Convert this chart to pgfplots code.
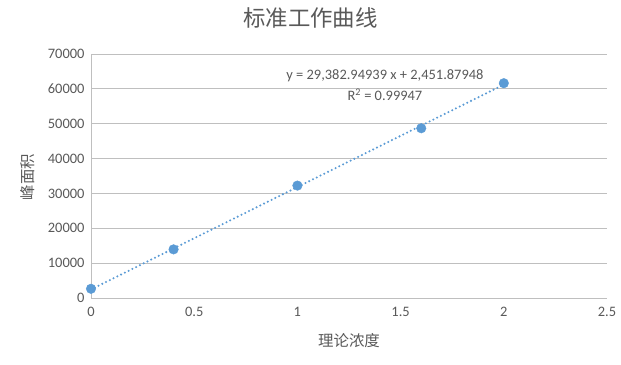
\documentclass[border=0pt]{standalone}
\usepackage{pgfplots}
\pgfplotsset{compat=1.18}
\usepackage{fontspec}
\setmainfont{Carlito}
\newfontfamily\cjk{Noto Sans CJK SC}
\definecolor{txt}{HTML}{595959}
\definecolor{grid}{HTML}{D9D9D9}
\definecolor{axisc}{HTML}{BFBFBF}
\definecolor{ser}{HTML}{5B9BD5}

\pgfplotstableread{
x y
0   2650
0.4 13950
1   32250
1.6 48700
2   61625
}\standards

\begin{document}
\begin{tikzpicture}[x=1bp,y=1bp]
\path[use as bounding box] (0,0) rectangle (621,364);
\begin{axis}[
  at={(91bp,66bp)}, anchor=south west,
  scale only axis, width=516bp, height=244bp,
  xmin=0, xmax=2.5, ymin=0, ymax=70000,
  xtick={0,0.5,1,1.5,2,2.5},
  ytick={0,10000,...,70000},
  scaled y ticks=false,
  /pgf/number format/assume math mode=true,
  yticklabel={\pgfmathprintnumber[fixed,1000 sep={}]{\tick}},
  xticklabel={\pgfmathprintnumber[fixed]{\tick}},
  tick label style={font=\fontsize{14.5}{16}\selectfont, text=txt},
  yticklabel style={xshift=-3bp},
  xticklabel style={yshift=-6bp},
  xmajorgrids=false, ymajorgrids=true,
  grid style={grid, line width=0.75bp},
  axis line style={draw=none},
  major tick style={draw=none},
  major tick length=0pt,
  clip=false,
]
  % vertical axis line and horizontal base line
  \draw[axisc, line width=0.75bp] (axis cs:0,0) -- (axis cs:0,70000);
  \draw[axisc, line width=0.75bp] (axis cs:0,0) -- (axis cs:2.5,0);
  % least-squares line: y = 29382.94939 x + 2451.87948
  \addplot[ser, line width=2.3bp, dash pattern=on 0bp off 4.2bp, line cap=round]
    coordinates {(0,2451.87948) (2,61217.77826)};
  \addplot[only marks, mark=*, mark size=4.8bp, mark options={fill=ser, draw=ser}]
    table[x=x, y=y] {\standards};
  \node[text=txt, font=\fontsize{14.5}{16}\selectfont]
    at (axis cs:1.424,63700) {y = 29,382.94939 x + 2,451.87948};
  \node[text=txt, font=\fontsize{14.5}{16}\selectfont]
    at (axis cs:1.424,58200) {R\textsuperscript{2} = 0.99947};
\end{axis}
\node[text=txt, font=\cjk\fontsize{22.5}{26}\selectfont] at (310.5,346) {标准工作曲线};
\node[text=txt, font=\cjk\fontsize{15.5}{18}\selectfont] at (349,23) {理论浓度};
\node[text=txt, font=\cjk\fontsize{15.5}{18}\selectfont, rotate=90] at (28,187) {峰面积};
\end{tikzpicture}
\end{document}
